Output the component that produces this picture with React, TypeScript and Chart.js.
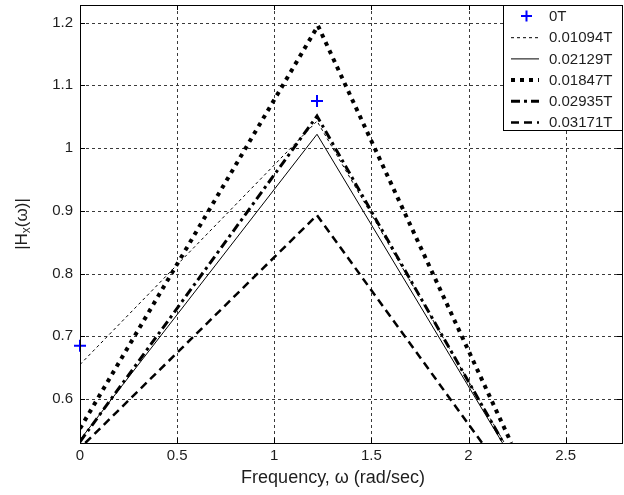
import React, { useEffect, useRef } from 'react';
import { Chart, registerables } from 'chart.js';

Chart.register(...registerables);

// ---- data ----
const seriesLabels = ['0T', '0.01094T', '0.02129T', '0.01847T', '0.02935T', '0.03171T'];

const freq0T = [0, 1.22];
const mag0T = [0.685, 1.075];

const freqA = [0, 1.22, 2.185]; // 0.01094T
const magA = [0.655, 1.043, 0.53];

const freqB = [0, 1.22, 2.175]; // 0.02129T
const magB = [0.535, 1.022, 0.53];

const freqC = [0, 1.225, 2.22]; // 0.01847T
const magC = [0.553, 1.195, 0.53];

const freqD = [0, 1.22, 2.18]; // 0.02935T
const magD = [0.532, 1.051, 0.53];

const freqE = [0.027, 1.22, 2.07]; // 0.03171T
const magE = [0.53, 0.893, 0.53];

const xTicks = [0, 0.5, 1, 1.5, 2, 2.5];
const yTicks = [0.6, 0.7, 0.8, 0.9, 1, 1.1, 1.2];
const xTickLabels = ['0', '0.5', '1', '1.5', '2', '2.5'];
const yTickLabels = ['0.6', '0.7', '0.8', '0.9', '1', '1.1', '1.2'];

const xMin = 0;
const xMax = 2.79;
const yMin = 0.53;
const yMax = 1.228;

const FONT = '"Liberation Sans", Arial, Helvetica, sans-serif';
const TEXT = '#1e1e1e';

const pts = (xs: number[], ys: number[]) => xs.map((x, i) => ({ x, y: ys[i] }));

type Style = { width: number; dash: number[]; cap: CanvasLineCap };
const styles: Style[] = [
  { width: 1, dash: [], cap: 'butt' },
  { width: 1, dash: [3, 3], cap: 'butt' },
  { width: 1, dash: [], cap: 'butt' },
  { width: 4, dash: [4, 5], cap: 'butt' },
  { width: 3, dash: [9, 4, 3, 4], cap: 'butt' },
  { width: 2.5, dash: [8, 5], cap: 'butt' },
];

const matlabPlugin = {
  id: 'matlabDecor',
  beforeDatasetsDraw(chart: any) {
    const ctx = chart.ctx as CanvasRenderingContext2D;
    const { left, right, top, bottom } = chart.chartArea;
    const xs = chart.scales.x;
    const ys = chart.scales.y;
    ctx.save();
    ctx.strokeStyle = '#3a3a3a';
    ctx.lineWidth = 1;
    ctx.setLineDash([3, 3]);
    xTicks.forEach((v) => {
      const px = Math.round(xs.getPixelForValue(v)) + 0.5;
      if (v === xMin) return;
      ctx.beginPath();
      ctx.moveTo(px, top);
      ctx.lineTo(px, bottom);
      ctx.stroke();
    });
    yTicks.forEach((v) => {
      const py = Math.round(ys.getPixelForValue(v)) + 0.5;
      ctx.beginPath();
      ctx.moveTo(left, py);
      ctx.lineTo(right, py);
      ctx.stroke();
    });
    ctx.restore();
  },
  afterDatasetsDraw(chart: any) {
    const ctx = chart.ctx as CanvasRenderingContext2D;
    const { left, right, top, bottom } = chart.chartArea;
    const xs = chart.scales.x;
    const ys = chart.scales.y;
    ctx.save();
    ctx.setLineDash([]);
    ctx.strokeStyle = '#000';
    ctx.lineWidth = 1;
    // inward ticks
    const tl = 5;
    xTicks.forEach((v) => {
      const px = Math.round(xs.getPixelForValue(v)) + 0.5;
      ctx.beginPath();
      ctx.moveTo(px, bottom);
      ctx.lineTo(px, bottom - tl);
      ctx.moveTo(px, top);
      ctx.lineTo(px, top + tl);
      ctx.stroke();
    });
    yTicks.forEach((v) => {
      const py = Math.round(ys.getPixelForValue(v)) + 0.5;
      ctx.beginPath();
      ctx.moveTo(left, py);
      ctx.lineTo(left + tl, py);
      ctx.moveTo(right, py);
      ctx.lineTo(right - tl, py);
      ctx.stroke();
    });
    // box
    ctx.strokeRect(Math.round(left) + 0.5, Math.round(top) + 0.5, Math.round(right - left), Math.round(bottom - top));

    // tick labels
    ctx.fillStyle = TEXT;
    ctx.font = `15px ${FONT}`;
    ctx.textAlign = 'center';
    ctx.textBaseline = 'top';
    xTicks.forEach((v, i) => {
      ctx.fillText(xTickLabels[i], xs.getPixelForValue(v), bottom + 5);
    });
    ctx.textAlign = 'right';
    ctx.textBaseline = 'middle';
    yTicks.forEach((v, i) => {
      ctx.fillText(yTickLabels[i], left - 7, ys.getPixelForValue(v));
    });

    // x title
    ctx.font = `18px ${FONT}`;
    ctx.textAlign = 'center';
    ctx.textBaseline = 'middle';
    ctx.fillText('Frequency, ω (rad/sec)', 333, 478);

    // y title with subscript
    ctx.save();
    ctx.translate(22, 224);
    ctx.rotate(-Math.PI / 2);
    const big = `17px ${FONT}`;
    const small = `12px ${FONT}`;
    ctx.font = big;
    const w1 = ctx.measureText('|H').width;
    const w3 = ctx.measureText('(ω)|').width;
    ctx.font = small;
    const w2 = ctx.measureText('x').width;
    const total = w1 + w2 + w3;
    let cx = -total / 2;
    ctx.textAlign = 'left';
    ctx.textBaseline = 'middle';
    ctx.font = big;
    ctx.fillText('|H', cx, 0);
    cx += w1;
    ctx.font = small;
    ctx.fillText('x', cx, 5);
    cx += w2;
    ctx.font = big;
    ctx.fillText('(ω)|', cx, 0);
    ctx.restore();

    // legend
    const lx = Math.round(right) - 119;
    const ly = Math.round(top);
    const lw = 119;
    const lh = 125;
    ctx.fillStyle = '#fff';
    ctx.fillRect(lx, ly, lw, lh);
    ctx.strokeStyle = '#000';
    ctx.lineWidth = 1;
    ctx.strokeRect(lx + 0.5, ly + 0.5, lw, lh);
    const rowH = 21.2;
    seriesLabels.forEach((lab, i) => {
      const yy = ly + 11 + i * rowH;
      if (i === 0) {
        ctx.strokeStyle = '#0000ff';
        ctx.lineWidth = 2;
        ctx.setLineDash([]);
        ctx.beginPath();
        ctx.moveTo(lx + 18, yy);
        ctx.lineTo(lx + 29, yy);
        ctx.moveTo(lx + 23.5, yy - 5.5);
        ctx.lineTo(lx + 23.5, yy + 5.5);
        ctx.stroke();
      } else {
        const s = styles[i];
        ctx.strokeStyle = '#000';
        ctx.lineWidth = s.width;
        ctx.setLineDash(s.dash);
        ctx.lineCap = s.cap;
        ctx.beginPath();
        ctx.moveTo(lx + 8, yy + 0.5);
        ctx.lineTo(lx + 36, yy + 0.5);
        ctx.stroke();
      }
      ctx.setLineDash([]);
      ctx.fillStyle = TEXT;
      ctx.font = `15px ${FONT}`;
      ctx.textAlign = 'left';
      ctx.textBaseline = 'middle';
      ctx.fillText(lab, lx + 46, yy + 1);
    });
    ctx.restore();
  },
};

export default function App() {
  const ref = useRef<HTMLCanvasElement | null>(null);

  useEffect(() => {
    document.body.style.margin = '0';
    const canvas = ref.current;
    if (!canvas) return;
    const lineDs = (i: number, xs: number[], ys: number[]) => ({
      label: seriesLabels[i],
      data: pts(xs, ys),
      showLine: true,
      borderColor: '#000',
      backgroundColor: '#000',
      borderWidth: styles[i].width,
      borderDash: styles[i].dash,
      borderCapStyle: styles[i].cap,
      pointRadius: 0,
      pointHoverRadius: 0,
      tension: 0,
      fill: false,
    });
    const chart = new Chart(canvas, {
      type: 'scatter',
      data: {
        datasets: [
          {
            label: seriesLabels[0],
            data: pts(freq0T, mag0T),
            showLine: false,
            pointStyle: 'cross',
            pointRadius: 6,
            pointHoverRadius: 6,
            borderColor: '#0000ff',
            backgroundColor: '#0000ff',
            borderWidth: 2,
            clip: false,
          } as any,
          lineDs(1, freqA, magA),
          lineDs(2, freqB, magB),
          lineDs(3, freqC, magC),
          lineDs(4, freqD, magD),
          lineDs(5, freqE, magE),
        ],
      },
      options: {
        animation: false,
        responsive: false,
        devicePixelRatio: 1,
        events: [],
        layout: { autoPadding: false, padding: { top: 5, right: 2, left: 0, bottom: 0 } },
        plugins: { legend: { display: false }, tooltip: { enabled: false }, title: { display: false } },
        scales: {
          x: {
            type: 'linear',
            min: xMin,
            max: xMax,
            grid: { display: false },
            border: { display: false },
            ticks: { display: false },
            afterFit: (s: any) => {
              s.height = 52;
            },
          },
          y: {
            type: 'linear',
            min: yMin,
            max: yMax,
            grid: { display: false },
            border: { display: false },
            ticks: { display: false },
            afterFit: (s: any) => {
              s.width = 80;
            },
          },
        },
      } as any,
      plugins: [matlabPlugin],
    });
    return () => chart.destroy();
  }, []);

  return (
    <div style={{ position: 'absolute', left: 0, top: 0, width: 624, height: 495, background: '#fff' }}>
      <canvas ref={ref} width={624} height={495} style={{ display: 'block', width: 624, height: 495 }} />
    </div>
  );
}
